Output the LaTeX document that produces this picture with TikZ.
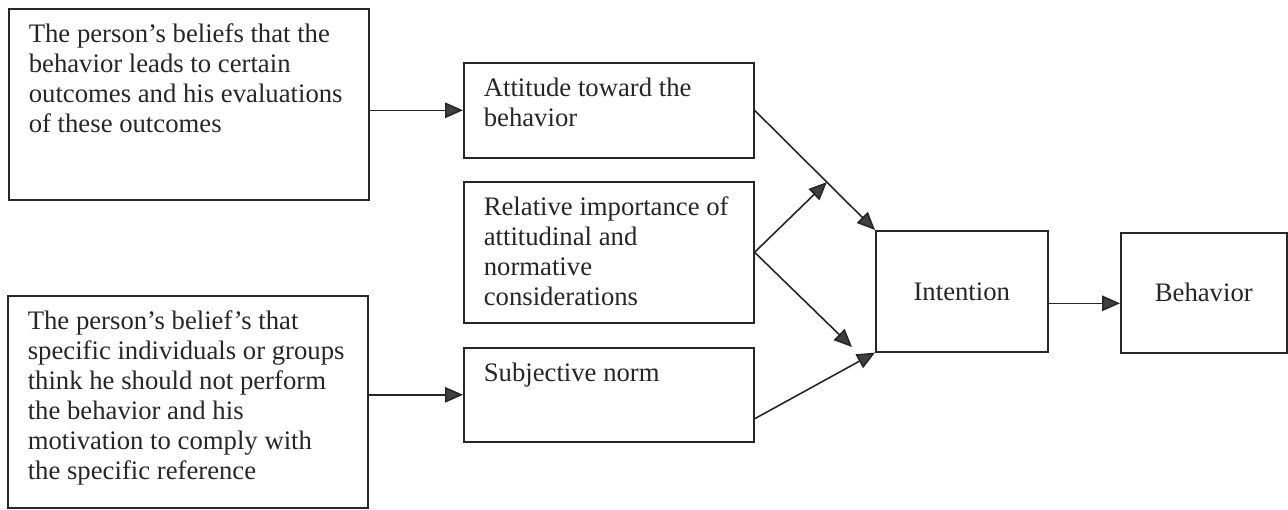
\documentclass[tikz,border=0pt]{standalone}
\usepackage{fontspec}
\setmainfont{Liberation Serif}
\usetikzlibrary{arrows.meta,positioning,calc}
\newcommand{\boxtext}[3]{\parbox[c][\dimexpr#1-0.6cm\relax][t]{\dimexpr#2-0.8cm\relax}{\raggedright#3}}

\begin{document}
\begin{tikzpicture}[font=\fontsize{15.2}{17.1}\selectfont,line width=0.9pt,draw=black!85,text=black!85,
  >={Triangle[length=3.6mm,width=3.1mm,fill=black!75]},
  tbox/.style={draw,anchor=north west,inner xsep=0.4cm,inner ysep=0.3cm},
  cbox/.style={draw,anchor=north west,minimum width=#1,minimum height=2.42cm}]
\useasboundingbox (0,0) rectangle (25.76,-10.18);
\node[tbox] (bel) at (0.16,-0.16) {\boxtext{3.82cm}{7.2cm}{The person's beliefs that the\\behavior leads to certain\\outcomes and his evaluations\\of these outcomes}};
\node[tbox] (norm) at (0.14,-5.9) {\boxtext{4.24cm}{7.2cm}{The person's belief's that\\specific individuals or groups\\think he should not perform\\the behavior and his\\motivation to comply with\\the specific reference}};
\node[tbox] (att) at (9.26,-1.24) {\boxtext{1.9cm}{5.8cm}{Attitude toward the\\behavior}};
\node[tbox] (rel) at (9.26,-3.62) {\boxtext{2.82cm}{5.8cm}{Relative importance of\\attitudinal and\\normative\\considerations}};
\node[tbox] (subj) at (9.26,-6.94) {\boxtext{1.88cm}{5.8cm}{Subjective norm}};
\node[cbox=3.44cm] (int) at (17.5,-4.6) {Intention};
\node[cbox=3.32cm,minimum height=2.4cm] (beh) at (22.4,-4.64) {Behavior};
\coordinate (meet) at ($(att.east)!0.6!(int.north west)$);
\coordinate (low) at (17.04,-6.94);
\draw[->] (bel.east |- att.west)--(att.west); \draw[->] (norm.east |- subj.west)--(subj.west);
\draw[->] (att.east)--(int.north west);
\draw[->] (rel.east)--(meet); \draw[->] (rel.east)--(low);
\draw[->] ([yshift=-.48cm]subj.east)--(int.south west);
\draw[->] ([yshift=-.24cm]int.east)--([yshift=-.24cm]int.east -| beh.west);
\end{tikzpicture}
\end{document}
